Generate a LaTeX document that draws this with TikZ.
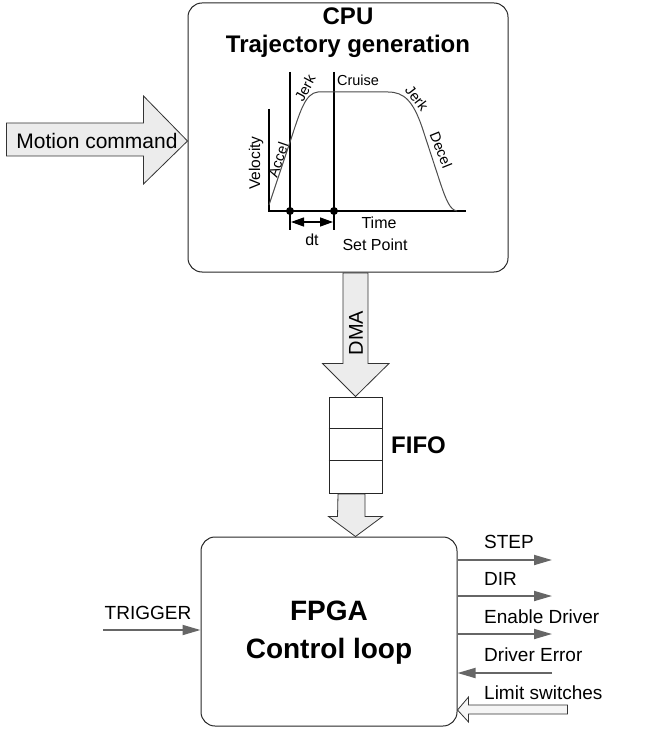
\documentclass[tikz,border=0pt]{standalone}
\usepackage{fontspec}
\setmainfont{Liberation Sans}
\usetikzlibrary{arrows.meta,calc}
\begin{document}
\begin{tikzpicture}[x=1pt,y=-1pt,
  box/.style={draw=black!85,line width=1pt,rounded corners=14pt,inner sep=0pt},
  blk/.style={draw=black!80,fill=gray!15,line width=0.8pt,line join=miter},
  sig/.style={draw=black!60,line width=1.8pt,-{Triangle[length=18pt,width=10pt]}},
  lbl/.style={font=\fontsize{19}{21}\selectfont,anchor=west,inner sep=0pt},
  glbl/.style={font=\fontsize{14.5}{16}\selectfont,inner sep=0pt},
  dot/.style={circle,fill=black,inner sep=0pt,minimum size=8pt}]
\useasboundingbox (0,0) rectangle (660,730);
% main blocks
\node[box,minimum width=320pt,minimum height=269pt] (cpu) at (348,137.5) {};
\node[box,minimum width=256pt,minimum height=189pt] (fpga) at (329,631.5) {};
\node[draw=black!85,line width=1pt,minimum width=53pt,minimum height=96pt,inner sep=0pt] (fifo) at (355.5,445) {};
\draw[line width=1pt,black!85] ($(fifo.north west)+(0,32)$) -- ($(fifo.north east)+(0,32)$)
  ($(fifo.north west)+(0,64)$) -- ($(fifo.north east)+(0,64)$);
% titles
\node[font=\bfseries\fontsize{24}{28}\selectfont,align=center,inner sep=0pt] (cputitle) at (348,33) {CPU\\Trajectory generation};
\node[font=\bfseries\fontsize{28}{38}\selectfont,align=center,inner sep=0pt] (fpgatitle) at (329,633) {FPGA\\Control loop};
\node[font=\bfseries\fontsize{24}{28}\selectfont,anchor=west,inner sep=0pt] (fifolbl) at (391,445) {FIFO};
% velocity graph
\coordinate (o) at (269,211);
\coordinate (vtop) at (269,109);
\coordinate (tend) at (466,211);
\draw[line width=2pt] (vtop) -- (o) -- (tend);
\coordinate (l1t) at (290,72); \coordinate (l1b) at (290,230);
\coordinate (l2t) at (334,72); \coordinate (l2b) at (334,230);
\draw[line width=1.3pt] (l1t) -- (l1b) (l2t) -- (l2b);
\node[dot] (d1) at (290,211) {};
\node[dot] (d2) at (334,211) {};
\coordinate (a1) at (291,222); \coordinate (a2) at (333,222);
\draw[line width=1.3pt,{Triangle[length=13pt,width=9pt]}-{Triangle[length=13pt,width=9pt]}] (a1) -- (a2);
\draw[black!70,line width=1pt] (269,205) -- (290,142) .. controls (300,112) and (305,93) .. (318,92)
  -- (388,92) .. controls (404,92) and (413,101) .. (422,127)
  -- (440,182) .. controls (446,200) and (450,210) .. (457,211);
\node[glbl] (jerk1) at (305,88) [rotate=62] {Jerk};
\node[glbl] (cruise) at (358,80) {Cruise};
\node[glbl] (jerk2) at (417,98) [rotate=-52] {Jerk};
\node[glbl] (decel) at (441,150) [rotate=-68] {Decel};
\node[glbl] (accel) at (278,160) [rotate=71] {Accel};
\node[glbl,font=\fontsize{15.5}{17}\selectfont] (vel) at (256,163) [rotate=90] {Velocity};
\node[glbl,font=\fontsize{16}{18}\selectfont] (time) at (379,223) {Time};
\node[glbl,font=\fontsize{16}{18}\selectfont] (setp) at (375,245) {Set Point};
\node[glbl,font=\fontsize{16}{18}\selectfont] (dt) at (312,240) {dt};
% Motion command arrow
\coordinate (mtip) at (cpu.west |- 0,141);
\draw[blk] (mtip) -- ($(mtip)+(-44,-45)$) -- ($(mtip)+(-44,-18)$) -- ($(mtip)+(-181,-18)$)
  -- ($(mtip)+(-181,15)$) -- ($(mtip)+(-44,15)$) -- ($(mtip)+(-44,43)$) -- cycle;
\node[font=\fontsize{21}{24}\selectfont,inner sep=0pt] (motion) at (97,141) {Motion command};
% DMA arrow
\draw[blk] (fifo.north) -- ++(-33,-33) -- ++(20.5,0) -- ($(cpu.south)+(-5,0.5)$) -- ($(cpu.south)+(20,0.5)$)
  -- ($(fifo.north)+(12.5,-33)$) -- ($(fifo.north)+(33.5,-33)$) -- cycle;
\node[font=\fontsize{20}{22}\selectfont,inner sep=0pt,rotate=90] (dma) at (356,333) {DMA};
% FIFO to FPGA arrow
\coordinate (ftip) at (fifo.south |- fpga.north);
\draw[blk] (ftip) -- ++(-27,-20) -- ++(9,0) -- ($(fifo.south)+(-17.5,0.5)$) -- ($(fifo.south)+(9.5,0.5)$)
  -- ($(ftip)+(9.5,-20)$) -- ($(ftip)+(27,-20)$) -- cycle;
% right signals
\coordinate (stepE) at (552,560);
\coordinate (dirE) at (552,596);
\coordinate (enE) at (552,634);
\coordinate (errS) at (552,673);
\draw[sig] (fpga.east |- stepE) -- (stepE);
\draw[sig] (fpga.east |- dirE) -- (dirE);
\draw[sig] (fpga.east |- enE) -- (enE);
\draw[sig] (errS) -- (fpga.east |- errS);
\node[lbl] (steplbl) at (484,542) {STEP};
\node[lbl] (dirlbl) at (484,579) {DIR};
\node[lbl] (enlbl) at (484,617) {Enable Driver};
\node[lbl] (errlbl) at (484,655) {Driver Error};
\node[lbl] (limlbl) at (484,693) {Limit switches};
% limit switches hollow arrow
\coordinate (ltip) at (fpga.east |- 0,710);
\draw[blk,fill=gray!8] (ltip) -- ++(11,-13) -- ++(0,8) -- ++(99,0) -- ++(0,9) -- ++(-99,0) -- ++(0,8) -- cycle;
% trigger
\coordinate (trigS) at (103,630);
\draw[sig] (trigS) -- (fpga.west |- trigS);
\node[font=\fontsize{19}{21}\selectfont,inner sep=0pt] (triglbl) at (148,613) {TRIGGER};
\end{tikzpicture}
\end{document}
